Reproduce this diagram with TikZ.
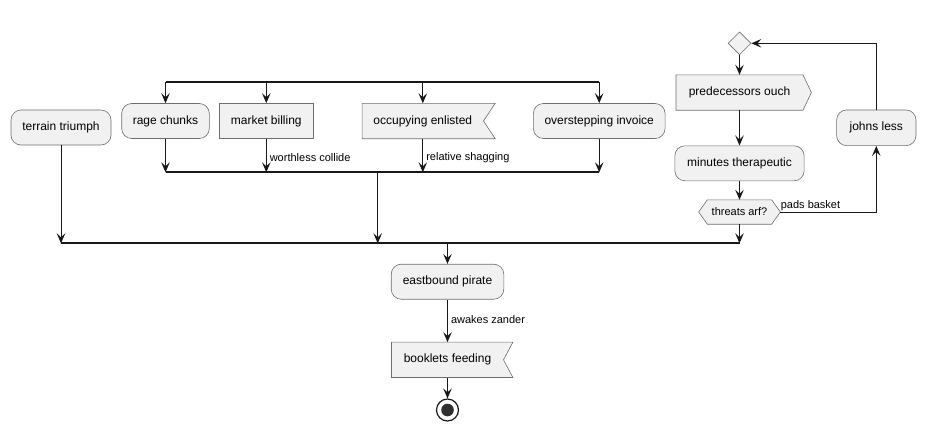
\documentclass[tikz,border=0pt]{standalone}
\usepackage{fontspec}
\setmainfont{Liberation Sans}
\usepackage{xcolor}
\usetikzlibrary{arrows.meta,positioning,shapes.geometric,backgrounds}
\definecolor{linecol}{HTML}{181818}
\definecolor{bordercol}{HTML}{6E6E6E}
\definecolor{boxfill}{HTML}{F1F1F1}
\tikzset{
  act/.style={draw=bordercol, fill=boxfill, line width=0.6pt, rounded corners=10pt,
    minimum height=35pt, inner sep=0pt, font=\fontsize{12}{14}\selectfont},
  plainbox/.style={act, sharp corners},
  sigbox/.style={inner sep=0pt, minimum height=35pt, font=\fontsize{12}{14}\selectfont},
  outline/.style={draw=bordercol, fill=boxfill, line width=0.6pt},
  flow/.style={draw=linecol, line width=1pt, -{Stealth[length=10pt,width=8.5pt,inset=4pt]}},
  bar/.style={draw=linecol, line width=2pt},
  lbl/.style={font=\fontsize{11}{13}\selectfont, inner sep=0pt, text=black},
}
\begin{document}
\begin{tikzpicture}[x=1pt,y=-1pt]
\useasboundingbox (0,0) rectangle (925,429);
%%%%%%%%%%%%%%%%
\node[act, minimum width=100pt] (terrain) at (61,127.5) {terrain triumph};
\node[act, minimum width=87.6pt] (rage) at (165.5,121) {rage chunks};
\node[plainbox, minimum width=94pt] (market) at (266.3,121) {market billing};
\node[sigbox, minimum width=121pt] (occ) at (422.8,121) {occupying enlisted};
\node[act, minimum width=131.7pt] (overstep) at (599.2,121) {overstepping invoice};
%%%%%%%%%%%%%%%%
\node[diamond, draw=bordercol, fill=boxfill, line width=0.6pt, inner sep=0pt,
  minimum width=23pt, minimum height=23pt] (loop) at (739.5,43.3) {};
\node[sigbox, minimum width=126.6pt] (pred) at (739.5,92.5) {predecessors ouch};
\node[act, minimum width=129.3pt] (minutes) at (739.5,163.3) {minutes therapeutic};
\node[sigbox, minimum width=81.3pt, minimum height=24pt,
  font=\fontsize{11}{13}\selectfont] (threats) at (739.5,212) {threats arf?};
\node[act, minimum width=79.3pt, minimum height=35.7pt] (johns) at (876.3,127.8) {johns less};
%%%%%%%%%%%%%%%%
\node[act, minimum width=112.6pt] (eastbound) at (447.5,281.7) {eastbound pirate};
\node[sigbox, minimum width=111.6pt] (booklets) at (447.5,359.8) {booklets feeding};
\node[circle, draw=linecol, line width=1.2pt, minimum size=22pt, inner sep=0pt] (stop) at (447.5,410) {};
\fill[linecol!90!white] (stop.center) circle (6.3pt);
%%%%%%%%%%%%%%%%
\begin{scope}[on background layer]
\filldraw[outline] (occ.north west) -- ([xshift=11.7pt]occ.north east) -- (occ.east)
  -- ([xshift=11.7pt]occ.south east) -- (occ.south west) -- cycle;
\filldraw[outline] (booklets.north west) -- ([xshift=9.4pt]booklets.north east) -- (booklets.east)
  -- ([xshift=9.4pt]booklets.south east) -- (booklets.south west) -- cycle;
\filldraw[outline] (pred.north west) -- (pred.north east) -- ([xshift=8.4pt]pred.east)
  -- (pred.south east) -- (pred.south west) -- cycle;
\filldraw[outline] (threats.west) -- ([xshift=8.7pt]threats.north west) -- ([xshift=-8.7pt]threats.north east)
  -- (threats.east) -- ([xshift=-8.7pt]threats.south east) -- ([xshift=8.7pt]threats.south west) -- cycle;
\end{scope}
%%%%%%%%%%%%%%%%
\coordinate (forkL) at (165.5,82.3);
\coordinate (forkR) at (599.2,82.3);
\coordinate (joinL) at (165.5,172.3);
\coordinate (joinR) at (599.2,172.3);
\coordinate (joinmid) at (377.7,172.3);
\coordinate (mergeL) at (61,243.3);
\coordinate (mergeR) at (739.5,243.3);
\draw[bar] (forkL) -- (forkR);
\draw[bar] (joinL) -- (joinR);
\draw[bar] (mergeL) -- (mergeR);
%%%%%%%%%%%%%%%%
\draw[flow] (rage.north |- forkL) -- (rage.north);
\draw[flow] (market.north |- forkL) -- (market.north);
\draw[flow] (occ.north |- forkL) -- (occ.north);
\draw[flow] (overstep.north |- forkL) -- (overstep.north);
\draw[flow] (rage.south) -- (rage.south |- joinL);
\draw[flow] (market.south) -- node[lbl, pos=0.55, anchor=west, xshift=3pt] {worthless collide} (market.south |- joinL);
\draw[flow] (occ.south) -- node[lbl, pos=0.55, anchor=west, xshift=3pt] {relative shagging} (occ.south |- joinL);
\draw[flow] (overstep.south) -- (overstep.south |- joinL);
\draw[flow] (joinmid) -- (joinmid |- mergeL);
\draw[flow] (terrain.south) -- (terrain.south |- mergeL);
%%%%%%%%%%%%%%%%
\draw[flow] (loop.south) -- (pred.north);
\draw[flow] (pred.south) -- (minutes.north);
\draw[flow] (minutes.south) -- (threats.north);
\draw[flow] (threats.east) -| node[lbl, pos=0, anchor=south west, yshift=0.5pt] {pads basket} (johns.south);
\draw[flow] (johns.north) |- (loop.east);
\draw[flow] (threats.south) -- (threats.south |- mergeL);
%%%%%%%%%%%%%%%%
\draw[flow] (eastbound.north |- mergeL) -- (eastbound.north);
\draw[flow] (eastbound.south) -- node[lbl, pos=0.46, anchor=west, xshift=3pt] {awakes zander} (booklets.north);
\draw[flow] (booklets.south) -- (stop.north);
\end{tikzpicture}
\end{document}
